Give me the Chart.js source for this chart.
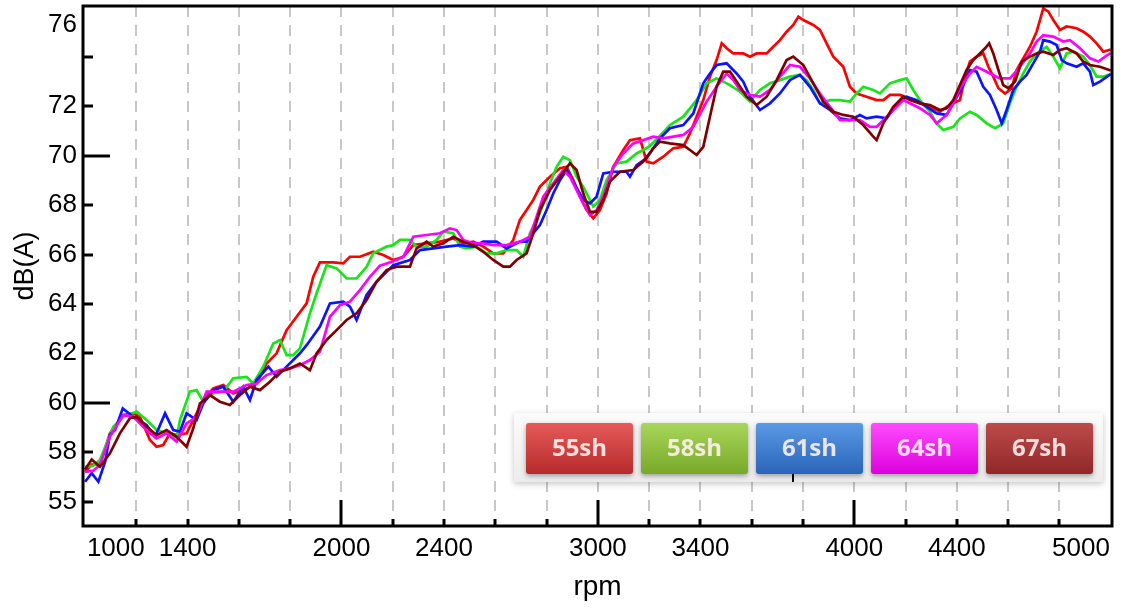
<!DOCTYPE html>
<html>
<head>
<meta charset="utf-8">
<script src="https://cdn.jsdelivr.net/npm/chart.js@4.4.1/dist/chart.umd.min.js"></script>
<style>
  html, body { margin: 0; padding: 0; background: #fff; }
</style>
</head>
<body>
<canvas id="noiseChart" width="1124" height="613"></canvas>
<script>
// Series names
const seriesNames = ["55sh", "58sh", "61sh", "64sh", "67sh"];

// Readings: rpm and dB(A) for each series
const rpm55 = [1000,1026,1058,1097,1149,1188,1214,1253,1279,1305,1331,1357,1396,1422,1461,1500,1539,1578,1630,1669,1708,1747,1786,1825,1864,1890,1916,1968,2007,2033,2072,2124,2163,2202,2241,2280,2332,2384,2436,2475,2514,2553,2592,2631,2670,2696,2722,2748,2774,2813,2852,2878,2904,2930,2956,2982,3008,3034,3060,3099,3125,3164,3190,3216,3255,3294,3333,3359,3385,3411,3437,3463,3483,3502,3528,3567,3593,3619,3658,3684,3710,3736,3762,3782,3801,3840,3866,3892,3918,3957,3983,4009,4048,4087,4113,4139,4178,4217,4256,4295,4334,4360,4386,4412,4432,4451,4477,4503,4523,4542,4562,4588,4614,4633,4659,4685,4711,4724,4737,4757,4776,4802,4828,4867,4893,4919,4945,4971,5000];
const db55 = [57.2,57.5,57.5,58.76,59.5,59.57,59.43,58.49,58.22,58.29,58.76,58.69,58.76,59.3,60.11,60.58,60.72,60.38,60.58,60.78,61.59,62.0,62.94,63.48,64.02,65.1,65.68,65.68,65.64,65.91,65.91,66.11,65.98,65.78,65.91,66.38,66.45,66.52,66.65,66.45,66.52,66.32,66.05,66.05,66.59,67.4,67.8,68.21,68.75,69.15,69.49,69.55,69.01,68.34,67.8,67.46,67.8,68.47,69.55,70.23,70.63,70.7,69.76,69.69,69.96,70.3,70.36,70.9,71.58,72.25,73.2,73.87,74.55,74.35,74.14,74.14,74.01,74.14,74.14,74.41,74.68,75.02,75.29,75.63,75.49,75.29,75.09,74.55,74.01,73.6,72.79,72.52,72.39,72.25,72.25,72.46,72.46,72.32,72.12,71.98,71.78,71.98,72.12,72.25,73.2,73.81,74.01,74.14,73.6,73.2,72.73,72.52,72.73,73.47,73.94,74.41,75.02,75.49,75.96,75.83,75.49,75.09,75.23,75.16,75.02,74.82,74.55,74.21,74.3];

const rpm58 = [1000,1032,1058,1110,1149,1201,1240,1279,1318,1357,1370,1409,1435,1461,1500,1539,1578,1630,1656,1695,1734,1760,1786,1812,1838,1877,1903,1942,1981,2020,2059,2098,2124,2176,2202,2228,2267,2293,2332,2371,2397,2436,2462,2488,2527,2566,2605,2644,2683,2709,2735,2774,2813,2839,2865,2891,2917,2943,2969,2982,3008,3034,3073,3112,3151,3177,3203,3242,3281,3333,3385,3424,3463,3489,3515,3554,3593,3632,3671,3710,3749,3788,3814,3840,3866,3905,3944,3983,4009,4035,4074,4100,4139,4178,4204,4230,4256,4295,4321,4347,4386,4412,4451,4477,4516,4549,4581,4607,4633,4659,4685,4711,4750,4776,4802,4828,4854,4893,4919,4945,4971,5000];
const db58 = [57.4,57.45,57.68,59.03,59.43,59.64,59.3,58.89,58.76,58.56,59.3,60.45,60.51,60.04,60.38,60.45,60.99,61.05,60.78,61.46,62.4,62.54,61.93,61.93,62.2,63.62,64.43,65.57,65.44,65.03,65.03,65.5,66.05,66.32,66.38,66.59,66.59,66.32,66.32,66.59,66.92,66.86,66.32,66.25,66.32,66.05,66.05,66.18,66.18,65.91,66.86,67.67,68.88,69.55,69.96,69.82,69.15,68.74,68.21,67.94,68.21,69.01,69.69,69.76,70.09,70.23,70.4,70.8,71.24,71.58,72.25,72.93,73.13,73.0,72.86,72.59,72.19,72.66,72.93,73.06,73.2,73.27,73.06,72.66,72.12,72.25,72.25,72.19,72.52,72.79,72.66,72.52,72.93,73.06,73.13,72.66,72.25,71.78,71.31,71.04,71.17,71.51,71.78,71.65,71.31,71.11,71.31,72.12,72.79,73.33,73.81,74.14,74.41,74.01,73.54,74.14,74.21,74.01,73.67,73.2,73.2,73.3];

const rpm61 = [1000,1026,1052,1078,1097,1117,1147,1188,1240,1273,1312,1344,1370,1396,1435,1461,1500,1539,1578,1617,1643,1669,1715,1747,1786,1838,1864,1916,1955,2007,2033,2059,2098,2137,2202,2267,2306,2358,2410,2462,2514,2553,2605,2644,2696,2722,2748,2774,2800,2826,2852,2878,2904,2943,2969,2995,3021,3060,3112,3125,3151,3190,3242,3281,3333,3372,3411,3437,3463,3502,3541,3567,3593,3632,3671,3710,3749,3788,3827,3866,3905,3944,3983,4022,4048,4087,4126,4165,4204,4243,4282,4321,4360,4386,4425,4451,4477,4503,4529,4555,4575,4594,4620,4646,4672,4698,4724,4737,4763,4789,4809,4828,4867,4893,4919,4932,4958,5000];
const db61 = [56.8,57.15,56.8,57.6,58.7,58.9,59.77,59.43,59.1,58.62,59.57,58.89,58.83,59.57,59.3,59.97,60.51,60.65,60.04,60.65,60.11,60.92,61.46,61.05,61.46,62.0,62.33,63.08,64.02,64.09,63.89,63.35,64.36,64.9,65.57,65.78,66.18,66.25,66.32,66.38,66.32,66.52,66.52,66.25,66.52,66.52,66.86,67.19,67.8,68.47,69.01,69.42,68.95,68.21,68.07,68.34,69.28,69.35,69.35,69.15,69.62,69.9,70.7,71.11,71.24,71.71,72.93,73.33,73.67,73.74,73.33,73.0,72.39,71.85,72.12,72.52,73.06,73.27,72.79,72.12,71.85,71.51,71.44,71.65,71.51,71.58,71.51,72.05,72.39,72.25,71.98,71.71,71.65,72.12,72.86,73.47,73.4,72.79,72.46,71.85,71.31,71.85,72.66,73.0,73.27,73.74,74.21,74.68,74.62,74.48,73.87,73.74,73.6,73.74,73.4,72.86,73.0,73.3];

const rpm64 = [1000,1032,1058,1097,1149,1188,1240,1279,1318,1357,1396,1435,1474,1526,1578,1630,1669,1708,1760,1799,1838,1877,1916,1955,1994,2033,2072,2111,2150,2176,2215,2241,2280,2332,2384,2423,2449,2475,2514,2553,2592,2644,2696,2735,2761,2787,2826,2865,2891,2917,2943,2969,2995,3021,3060,3099,3138,3177,3216,3255,3294,3333,3372,3424,3463,3502,3528,3554,3593,3632,3671,3710,3749,3788,3827,3866,3905,3944,3983,4022,4061,4087,4113,4152,4191,4217,4256,4295,4321,4360,4386,4412,4451,4477,4503,4529,4568,4607,4646,4685,4711,4737,4776,4815,4841,4880,4919,4952,4978,5000];
const db64 = [57.2,57.25,57.48,58.62,59.5,59.43,58.89,58.56,58.76,58.42,59.16,59.43,60.45,60.45,60.45,60.72,60.78,61.12,61.32,61.39,61.52,61.73,62.06,63.48,63.95,64.09,64.56,65.1,65.55,65.64,65.78,65.91,66.72,66.79,66.86,67.06,66.99,66.59,66.45,66.45,66.38,66.38,66.52,66.72,67.53,68.34,68.88,69.42,69.15,68.61,68.07,67.6,67.8,68.34,69.55,70.09,70.5,70.63,70.77,70.7,70.77,70.84,71.17,72.19,72.79,73.33,73.06,72.66,72.46,72.39,72.66,73.2,73.67,73.6,73.13,72.52,71.98,71.44,71.44,71.44,71.17,71.17,71.44,71.85,72.25,72.12,71.92,71.65,71.31,71.65,72.12,72.73,73.33,73.6,73.47,73.33,73.13,73.13,73.6,74.14,74.62,74.88,74.82,74.62,74.68,74.35,73.94,73.81,74.01,74.15];

const rpm67 = [1000,1026,1058,1097,1136,1175,1201,1240,1279,1318,1357,1396,1422,1448,1487,1526,1565,1604,1643,1682,1721,1760,1799,1838,1877,1903,1942,1981,2020,2059,2098,2137,2176,2215,2267,2293,2332,2358,2397,2436,2475,2514,2553,2592,2631,2657,2683,2722,2748,2774,2813,2852,2891,2917,2943,2969,2995,3021,3047,3086,3138,3177,3216,3242,3281,3333,3359,3385,3411,3437,3463,3489,3515,3541,3580,3619,3658,3697,3736,3762,3801,3840,3879,3918,3957,3996,4035,4074,4087,4113,4152,4191,4217,4256,4295,4334,4360,4386,4412,4438,4464,4490,4510,4526,4542,4562,4581,4601,4627,4653,4685,4711,4737,4776,4802,4828,4867,4893,4919,4958,5000];
const db67 = [57.3,57.7,57.41,57.95,58.76,59.37,59.43,59.03,58.69,58.89,58.62,58.22,58.96,59.97,60.31,60.04,59.91,60.31,60.65,60.51,60.85,61.26,61.39,61.59,61.32,62.0,62.54,62.94,63.35,63.62,64.16,64.9,65.37,65.51,65.51,66.25,66.52,66.32,66.45,66.72,66.52,66.38,66.11,65.78,65.51,65.51,65.78,66.05,66.86,67.8,68.61,69.15,69.69,69.42,68.47,67.73,67.73,68.21,68.95,69.35,69.42,69.76,70.3,70.57,70.5,70.43,70.23,70.03,70.36,71.58,72.79,73.4,73.4,73.0,72.39,72.05,72.39,73.06,73.87,74.01,73.67,72.93,72.19,71.78,71.65,71.58,71.24,70.77,70.63,71.31,71.98,72.39,72.25,72.12,72.05,71.85,71.92,72.25,72.86,73.47,73.87,74.14,74.35,74.55,74.14,73.47,72.86,72.73,73.0,73.81,74.01,74.14,74.21,74.08,74.28,74.35,74.14,73.81,73.67,73.6,73.45];

const rpmSeries = [rpm55, rpm58, rpm61, rpm64, rpm67];
const dbSeries = [db55, db58, db61, db64, db67];

// Axis ticks and labels (the original picture places some labels loosely)
const xGridTicks = [1200,1400,1600,1800,2000,2200,2400,2600,2800,3000,3200,3400,3600,3800,4000,4200,4400,4600,4800];
const xMajorTicks = [2000, 3000, 4000];
const xLabelValues = [1120, 1400, 2000, 2400, 3000, 3400, 4000, 4400, 4884];
const xTickLabels = ["1000", "1400", "2000", "2400", "3000", "3400", "4000", "4400", "5000"];
const yTickMarks = [56, 58, 60, 62, 64, 66, 68, 70, 72, 74];
const yMajorTicks = [60, 70];
const yLabelValues = [56, 58, 60, 62, 64, 66, 68, 70, 72, 75.3];
const yTickLabels = ["55", "58", "60", "62", "64", "66", "68", "70", "72", "76"];

// Colours
const lineColors = ["#ff0000", "#16e616", "#0a14ff", "#ff00ff", "#800000"];
const legendTop = ["#e65a5a", "#a8d65a", "#5a9ae6", "#ff4cff", "#be4a4a"];
const legendBottom = ["#b52a2a", "#78a82a", "#2a64b8", "#dd00dd", "#902828"];

const FONT = "'Liberation Sans', Arial, sans-serif";

const datasets = seriesNames.map((name, i) => ({
    label: name,
    data: rpmSeries[i].map((r, j) => ({ x: r, y: dbSeries[i][j] })),
    borderColor: lineColors[i],
    borderWidth: 2.7,
    pointRadius: 0,
    tension: 0,
    fill: false,
    order: seriesNames.length - i
}));

// Dashed grid, inward tick marks, axis box and the button legend
const decorations = {
    id: "decorations",
    beforeDatasetsDraw(chart) {
        const { ctx, chartArea: a, scales: { x } } = chart;
        ctx.save();
        ctx.strokeStyle = "#c8c8c8";
        ctx.lineWidth = 2;
        ctx.setLineDash([11, 8]);
        xGridTicks.forEach(v => {
            const px = Math.round(x.getPixelForValue(v));
            ctx.beginPath();
            ctx.moveTo(px, a.top);
            ctx.lineTo(px, a.bottom);
            ctx.stroke();
        });
        ctx.restore();
    },
    afterDatasetsDraw(chart) {
        const { ctx, chartArea: a, scales: { x, y } } = chart;

        // legend strip
        const sx = 514, sy = 413, sw = 589, sh = 69;
        ctx.save();
        ctx.shadowColor = "rgba(0,0,0,0.22)";
        ctx.shadowBlur = 6;
        ctx.shadowOffsetY = 2;
        const sg = ctx.createLinearGradient(0, sy, 0, sy + sh);
        sg.addColorStop(0, "#fbfbfb");
        sg.addColorStop(1, "#ececec");
        ctx.fillStyle = sg;
        ctx.fillRect(sx, sy, sw, sh);
        ctx.restore();

        chart.data.datasets.forEach((ds, i) => {
            const bx = 526 + i * 115, by = 423, bw = 107, bh = 51;
            ctx.save();
            ctx.shadowColor = "rgba(0,0,0,0.35)";
            ctx.shadowBlur = 5;
            ctx.shadowOffsetY = 2;
            const g = ctx.createLinearGradient(0, by, 0, by + bh);
            g.addColorStop(0, legendTop[i]);
            g.addColorStop(1, legendBottom[i]);
            ctx.fillStyle = g;
            ctx.beginPath();
            ctx.roundRect(bx, by, bw, bh, 3);
            ctx.fill();
            ctx.restore();
            ctx.save();
            ctx.fillStyle = "rgba(255,240,240,0.9)";
            ctx.font = "bold 24px 'Open Sans', 'DejaVu Sans', sans-serif";
            ctx.textAlign = "center";
            ctx.textBaseline = "middle";
            ctx.fillText(ds.label, bx + bw / 2, by + bh / 2 + 1);
            ctx.restore();
        });

        // tick marks
        ctx.save();
        ctx.strokeStyle = "#000";
        ctx.lineWidth = 3;
        yTickMarks.forEach(v => {
            const py = Math.round(y.getPixelForValue(v));
            const len = yMajorTicks.includes(v) ? 27 : 10;
            ctx.beginPath();
            ctx.moveTo(a.left, py);
            ctx.lineTo(a.left + len, py);
            ctx.stroke();
        });
        xGridTicks.forEach(v => {
            const px = Math.round(x.getPixelForValue(v));
            const len = xMajorTicks.includes(v) ? 26 : 7;
            ctx.beginPath();
            ctx.moveTo(px, a.bottom);
            ctx.lineTo(px, a.bottom - len);
            ctx.stroke();
        });
        // stray mark under the 61sh button in the original
        ctx.lineWidth = 2;
        ctx.beginPath();
        ctx.moveTo(793, 474);
        ctx.lineTo(793, 482);
        ctx.stroke();
        // axis box
        ctx.lineWidth = 3;
        ctx.strokeRect(a.left, a.top, a.right - a.left, a.bottom - a.top);
        ctx.restore();
    }
};

new Chart(document.getElementById("noiseChart"), {
    type: "line",
    data: { datasets },
    options: {
        responsive: false,
        animation: false,
        devicePixelRatio: 1,
        layout: { padding: { top: 6, right: 12, left: 0, bottom: 0 } },
        plugins: { legend: { display: false }, tooltip: { enabled: false } },
        scales: {
            x: {
                type: "linear",
                min: 992,
                max: 5005,
                grid: { display: false, drawTicks: false },
                border: { display: false },
                afterBuildTicks: s => { s.ticks = xLabelValues.map(v => ({ value: v })); },
                afterFit: s => { s.height = 87; s.paddingLeft = 0; s.paddingRight = 0; },
                ticks: {
                    autoSkip: false,
                    maxRotation: 0,
                    padding: 7,
                    color: "#000",
                    font: { family: FONT, size: 26 },
                    callback: v => { const i = xLabelValues.indexOf(v); return i >= 0 ? xTickLabels[i] : ""; }
                },
                title: {
                    display: true,
                    text: "rpm",
                    color: "#000",
                    font: { family: FONT, size: 28 },
                    padding: { top: 0, bottom: 9 }
                }
            },
            y: {
                min: 55.01,
                max: 76.06,
                grid: { display: false, drawTicks: false },
                border: { display: false },
                afterBuildTicks: s => { s.ticks = yLabelValues.map(v => ({ value: v })); },
                afterFit: s => { s.width = 83; s.paddingTop = 0; s.paddingBottom = 0; },
                ticks: {
                    autoSkip: false,
                    padding: 6,
                    color: "#000",
                    font: { family: FONT, size: 26 },
                    callback: v => { const i = yLabelValues.indexOf(v); return i >= 0 ? yTickLabels[i] : ""; }
                },
                title: {
                    display: true,
                    text: "dB(A)",
                    color: "#000",
                    font: { family: FONT, size: 27 },
                    padding: { top: 9, bottom: 0 }
                }
            }
        }
    },
    plugins: [decorations]
});
</script>
</body>
</html>
